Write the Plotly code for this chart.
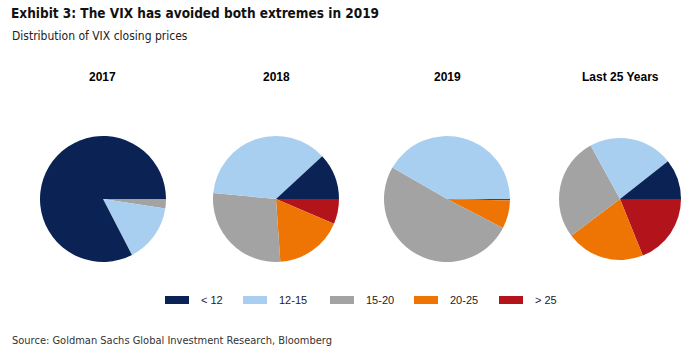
import plotly.graph_objects as go

categories = ["< 12", "12-15", "15-20", "20-25", "> 25"]
colors = ["#0B2254", "#A9CFF0", "#A3A3A3", "#EE7503", "#B3141B"]
pie_titles = ["2017", "2018", "2019", "Last 25 Years"]
vals_2017 = [82.6, 15.0, 2.4, 0, 0]
vals_2018 = [11.9, 36.6, 27.6, 17.5, 6.4]
vals_2019 = [0, 41.7, 50.7, 7.2, 0.4]
vals_25y = [10.6, 22.4, 27.3, 20.8, 18.9]
series = [vals_2017, vals_2018, vals_2019, vals_25y]

W, H = 700, 354
centers_x = [103, 276, 447, 620]
center_y = 199
radii = [63, 63, 63, 61]

FONT = "DejaVu Sans Condensed, Liberation Sans Narrow, Arial Narrow, Liberation Sans, sans-serif"

fig = go.Figure()
for i, vals in enumerate(series):
    cx, r = centers_x[i], radii[i]
    fig.add_trace(go.Pie(
        labels=categories[::-1], values=vals[::-1], sort=False,
        direction="clockwise", rotation=90,
        marker=dict(colors=colors[::-1], line=dict(width=0)),
        textinfo="none", showlegend=False,
        domain=dict(x=[(cx - r) / W, (cx + r) / W],
                    y=[1 - (center_y + r) / H, 1 - (center_y - r) / H]),
        name=pie_titles[i],
    ))

annotations = []
for i, t in enumerate(pie_titles):
    annotations.append(dict(x=centers_x[i] / W, y=1 - 77 / H, xref="paper", yref="paper",
                            text="<b>" + t + "</b>", showarrow=False,
                            font=dict(family="Liberation Sans, Arial, sans-serif", size=12, color="#000"),
                            xanchor="center", yanchor="middle"))

annotations.append(dict(x=9 / W, y=1 - 13 / H, xref="paper", yref="paper",
                        text="<b>Exhibit 3: The VIX has avoided both extremes in 2019</b>",
                        showarrow=False, xanchor="left", yanchor="middle",
                        font=dict(family=FONT, size=13.5, color="#111")))
annotations.append(dict(x=10 / W, y=1 - 36 / H, xref="paper", yref="paper",
                        text="Distribution of VIX closing prices",
                        showarrow=False, xanchor="left", yanchor="middle",
                        font=dict(family=FONT, size=12, color="#222")))
annotations.append(dict(x=10 / W, y=1 - 340 / H, xref="paper", yref="paper",
                        text="Source: Goldman Sachs Global Investment Research, Bloomberg",
                        showarrow=False, xanchor="left", yanchor="middle",
                        font=dict(family=FONT, size=11, color="#333")))

# custom legend with wide swatches
legend_x = [165, 243, 330, 414, 499]
legend_y = 300
shapes = []
for i, cat in enumerate(categories):
    x0 = legend_x[i]
    shapes.append(dict(type="rect", xref="paper", yref="paper",
                       x0=x0 / W, x1=(x0 + 24) / W,
                       y0=1 - (legend_y + 4) / H, y1=1 - (legend_y - 4) / H,
                       fillcolor=colors[i], line=dict(width=0)))
    annotations.append(dict(x=(x0 + 34) / W, y=1 - legend_y / H, xref="paper", yref="paper",
                            text=cat, showarrow=False, xanchor="left", yanchor="middle",
                            font=dict(family="Liberation Sans, Arial, sans-serif", size=11, color="#222")))

fig.update_layout(width=W, height=H, margin=dict(l=0, r=0, t=0, b=0),
                  paper_bgcolor="white", plot_bgcolor="white",
                  annotations=annotations, shapes=shapes, showlegend=False)

fig.write_html("out.html")
